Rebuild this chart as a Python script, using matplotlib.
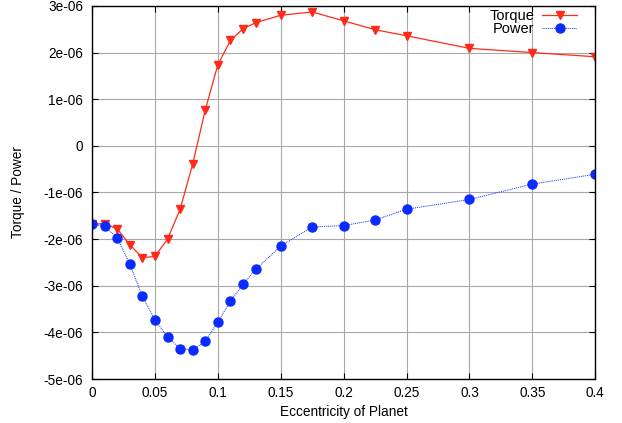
import matplotlib
matplotlib.use("Agg")
import matplotlib.pyplot as plt

# Eccentricity samples
ecc = [0.0, 0.01, 0.02, 0.03, 0.04, 0.05, 0.06, 0.07, 0.08, 0.09, 0.1,
       0.11, 0.12, 0.13, 0.15, 0.175, 0.2, 0.225, 0.25, 0.3, 0.35, 0.4]

# Values in units of 1e-06
torque = [-1.68, -1.67, -1.78, -2.12, -2.40, -2.37, -2.00, -1.36, -0.39, 0.77, 1.74,
          2.26, 2.51, 2.64, 2.80, 2.87, 2.68, 2.49, 2.36, 2.09, 2.00, 1.91]
power = [-1.68, -1.72, -1.97, -2.54, -3.23, -3.73, -4.10, -4.35, -4.38, -4.19, -3.78,
         -3.33, -2.97, -2.65, -2.15, -1.74, -1.71, -1.59, -1.36, -1.15, -0.82, -0.61]

yticks = [-5, -4, -3, -2, -1, 0, 1, 2, 3]
ytick_labels = ["-5e-06", "-4e-06", "-3e-06", "-2e-06", "-1e-06", "0",
                "1e-06", "2e-06", "3e-06"]
xticks = [0, 0.05, 0.1, 0.15, 0.2, 0.25, 0.3, 0.35, 0.4]
xtick_labels = ["0", "0.05", "0.1", "0.15", "0.2", "0.25", "0.3", "0.35", "0.4"]

plt.rcParams["font.family"] = ["Liberation Sans", "DejaVu Sans"]
plt.rcParams["font.size"] = 9.8

fig = plt.figure(figsize=(6.22, 4.23), dpi=100)
ax = fig.add_axes([0.148, 0.104, 0.809, 0.882])

ax.plot(ecc, [v * 1e-6 for v in torque], color="#ff2a1a", linewidth=0.9,
        marker="v", markersize=6, label="Torque")
ax.plot(ecc, [v * 1e-6 for v in power], color="#0a2bff", linewidth=0.7,
        linestyle=(0, (1, 1)), marker="o", markersize=6.5, label="Power")

ax.set_xlim(0, 0.4)
ax.set_ylim(-5e-6, 3e-6)
ax.set_xticks(xticks)
ax.set_xticklabels(xtick_labels)
ax.set_yticks([v * 1e-6 for v in yticks])
ax.set_yticklabels(ytick_labels)
ax.tick_params(axis="y", pad=6.5)
ax.tick_params(axis="x", pad=5)
ax.tick_params(direction="in", top=True, right=True, length=4, width=0.8)
ax.grid(True, color="#a8a8a8", linewidth=0.8)
for s in ax.spines.values():
    s.set_linewidth(1.0)

ax.set_xlabel("Eccentricity of Planet")
ax.set_ylabel("Torque / Power")
ax.yaxis.set_label_coords(-0.133, 0.5)
ax.xaxis.set_label_coords(0.5, -0.07)

ax.legend(loc="upper right", bbox_to_anchor=(0.97, 1.0), frameon=False,
          markerfirst=False, handlelength=2.4, borderaxespad=0.1, borderpad=0.1,
          labelspacing=-0.05, handletextpad=0.55, fontsize=10.5)

fig.savefig("out.png", dpi=100)
